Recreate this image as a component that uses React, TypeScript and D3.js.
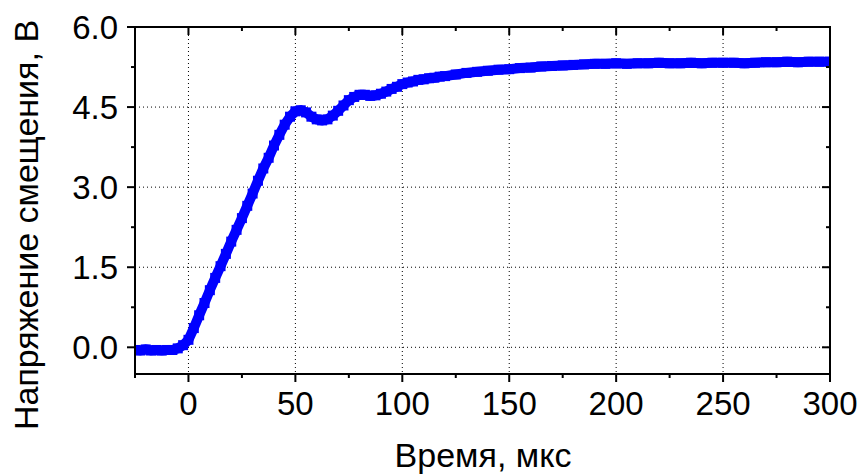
import React from "react";
import * as d3 from "d3";

const timeUs: number[] = [
  -25, -22.5, -20, -17.5, -15, -12.5, -10, -7.5, -5, -2.5, 0, 2.5, 5, 7.5, 10, 12.5, 15, 17.5, 20, 22.5,
  25, 27.5, 30, 32.5, 35, 37.5, 40, 42.5, 45, 47.5, 50, 52.5, 55, 57.5, 60, 62.5, 65, 67.5, 70, 72.5,
  75, 77.5, 80, 82.5, 85, 87.5, 90, 92.5, 95, 97.5, 100, 102.5, 105, 107.5, 110, 112.5, 115, 117.5, 120,
  125, 130, 135, 140, 145, 150, 155, 160, 165, 170, 175, 180, 185, 190, 195, 200, 205, 210, 215, 220,
  225, 230, 235, 240, 245, 250, 255, 260, 265, 270, 275, 280, 285, 290, 295, 300,
];
const voltage: number[] = [
  -0.05, -0.06, -0.04, -0.06, -0.05, -0.06, -0.05, -0.05, -0.02, 0.04, 0.14, 0.36, 0.6, 0.83, 1.07, 1.3, 1.52, 1.75, 1.98, 2.2,
  2.42, 2.65, 2.88, 3.12, 3.35, 3.55, 3.78, 3.98, 4.17, 4.32, 4.42, 4.44, 4.4, 4.32, 4.27, 4.25, 4.27, 4.34, 4.43, 4.53,
  4.63, 4.69, 4.73, 4.73, 4.71, 4.72, 4.75, 4.79, 4.84, 4.88, 4.93, 4.96, 4.98, 5.01, 5.02, 5.04, 5.05, 5.07, 5.08,
  5.11, 5.14, 5.16, 5.18, 5.2, 5.21, 5.23, 5.24, 5.26, 5.27, 5.28, 5.29, 5.3, 5.31, 5.31, 5.32, 5.31, 5.32, 5.32, 5.33,
  5.32, 5.32, 5.33, 5.32, 5.33, 5.33, 5.33, 5.32, 5.33, 5.34, 5.34, 5.35, 5.34, 5.35, 5.35, 5.35,
];

const xTicks: number[] = [0, 50, 100, 150, 200, 250, 300];
const xMinorTicks: number[] = [-25, 25, 75, 125, 175, 225, 275];
const yTicks: number[] = [0, 1.5, 3.0, 4.5, 6.0];
const yMinorTicks: number[] = [0.75, 2.25, 3.75, 5.25];
const xGrid: number[] = [0, 50, 100, 150, 200, 250];
const yGrid: number[] = [0, 1.5, 3.0, 4.5];

const xTitle = "Время, мкс";
const yTitle = "Напряжение смещения, В";

const W = 862;
const H = 475;
const L = 135;
const R = 830;
const T = 27;
const B = 374;
const FONT = "'Liberation Sans', Arial, sans-serif";

export default function App() {
  const x = d3.scaleLinear().domain([-25, 300]).range([L, R]);
  const y = d3.scaleLinear().domain([-0.5, 6.0]).range([B, T]);
  const pts = timeUs.map((t, i) => [t, voltage[i]] as [number, number]);
  const line = d3
    .line<[number, number]>()
    .x((d) => x(d[0]))
    .y((d) => y(d[1]));
  const blue = "#0000ff";
  const ms = 10;

  return (
    <svg
      width={W}
      height={H}
      style={{ position: "absolute", left: 0, top: 0, background: "#fff" }}
      fontFamily={FONT}
    >
      <rect x={0} y={0} width={W} height={H} fill="#fff" />
      {xGrid.map((v) => (
        <line key={"gx" + v} x1={x(v)} x2={x(v)} y1={T} y2={B} stroke="#000" strokeWidth={1} strokeDasharray="1,3" />
      ))}
      {yGrid.map((v) => (
        <line key={"gy" + v} x1={L} x2={R} y1={y(v)} y2={y(v)} stroke="#000" strokeWidth={1} strokeDasharray="1,3" />
      ))}
      <clipPath id="clip">
        <rect x={L} y={T} width={R - L} height={B - T} />
      </clipPath>
      <g clipPath="url(#clip)">
        <path d={line(pts) || ""} fill="none" stroke={blue} strokeWidth={10} strokeLinejoin="miter" />
        {pts.map((d, i) => (
          <rect key={i} x={x(d[0]) - ms / 2} y={y(d[1]) - ms / 2} width={ms} height={ms} fill={blue} />
        ))}
      </g>
      <rect x={L} y={T} width={R - L} height={B - T} fill="none" stroke="#000" strokeWidth={2} />
      {xTicks.map((v) => (
        <g key={"xt" + v}>
          <line x1={x(v)} x2={x(v)} y1={B} y2={B + 8} stroke="#000" strokeWidth={2} />
          <line x1={x(v)} x2={x(v)} y1={T} y2={T + 8} stroke="#000" strokeWidth={2} />
          <text x={x(v)} y={415} textAnchor="middle" fontSize={33} fill="#000">
            {v}
          </text>
        </g>
      ))}
      {xMinorTicks.map((v) => (
        <g key={"xm" + v}>
          <line x1={x(v)} x2={x(v)} y1={B} y2={B + 4} stroke="#000" strokeWidth={2} />
          <line x1={x(v)} x2={x(v)} y1={T} y2={T + 4} stroke="#000" strokeWidth={2} />
        </g>
      ))}
      {yTicks.map((v) => (
        <g key={"yt" + v}>
          <line x1={L - 8} x2={L} y1={y(v)} y2={y(v)} stroke="#000" strokeWidth={2} />
          <line x1={R - 8} x2={R} y1={y(v)} y2={y(v)} stroke="#000" strokeWidth={2} />
          <text x={118} y={y(v) + 12} textAnchor="end" fontSize={33} fill="#000">
            {v.toFixed(1)}
          </text>
        </g>
      ))}
      {yMinorTicks.map((v) => (
        <g key={"ym" + v}>
          <line x1={L - 4} x2={L} y1={y(v)} y2={y(v)} stroke="#000" strokeWidth={2} />
          <line x1={R - 4} x2={R} y1={y(v)} y2={y(v)} stroke="#000" strokeWidth={2} />
        </g>
      ))}
      <text x={483} y={467} textAnchor="middle" fontSize={34} fill="#000">
        {xTitle}
      </text>
      <text transform={`translate(38, 225) rotate(-90)`} textAnchor="middle" fontSize={34} fill="#000">
        {yTitle}
      </text>
    </svg>
  );
}
